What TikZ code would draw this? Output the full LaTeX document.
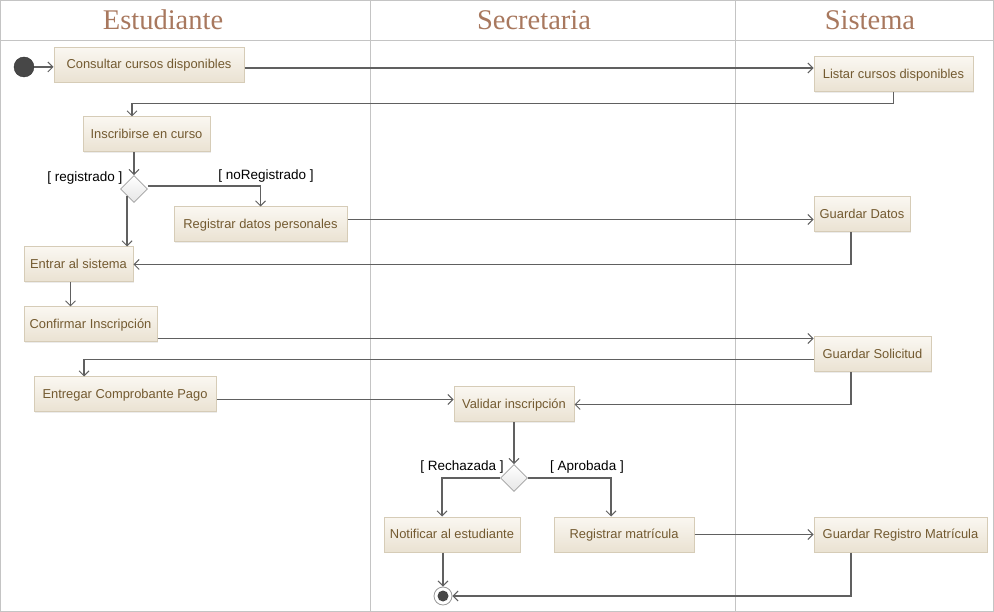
\documentclass[tikz,border=0pt]{standalone}
\usepackage{fontspec}
\setmainfont{Liberation Sans}
\newfontfamily\lanefont{Liberation Serif}
\usetikzlibrary{shapes.geometric,arrows.meta,shadows}

\definecolor{lanegray}{HTML}{C4C4C4}
\definecolor{flowgray}{HTML}{606060}
\definecolor{boxtop}{HTML}{FAF7F1}
\definecolor{boxbot}{HTML}{EAE2D2}
\definecolor{boxline}{HTML}{D6CCB7}
\definecolor{acttext}{HTML}{735A30}
\definecolor{lanetext}{HTML}{A8785E}

\tikzset{
  action/.style={rectangle, draw=boxline, line width=1pt, top color=boxtop, bottom color=boxbot,
    minimum height=35pt, inner xsep=3pt, text=acttext, font=\fontsize{12.9}{15}\selectfont,
    text height=9.5pt, text depth=2pt,
    drop shadow={shadow xshift=1pt, shadow yshift=-1pt, opacity=0.15}},
  choice/.style={diamond, draw=gray!75, line width=0.8pt, top color=white, bottom color=gray!20,
    minimum size=27pt, inner sep=0pt},
  flow/.style={draw=flowgray, line width=1.7pt, -{Straight Barb[length=5pt,width=10pt,line width=1pt]}},
  guard/.style={font=\fontsize{13.5}{15}\selectfont},
  lane/.style={font=\lanefont\fontsize{28.5}{31}\selectfont, text=lanetext}
}

\begin{document}
\begin{tikzpicture}[x=1pt,y=1pt]
  \useasboundingbox (0,0) rectangle (994,-612);
  \draw[lanegray] (0.5,-0.5) rectangle (993.5,-611.5);
  \draw[lanegray] (0.5,-40) -- (993.5,-40);
  \draw[lanegray] (370,-0.5) -- (370,-611.5);
  \draw[lanegray] (735,-0.5) -- (735,-611.5);

  \node[lane] (est) at (163,-20) {Estudiante};
  \node[lane] (sec) at (534,-20) {Secretaria};
  \node[lane] (sis) at (870,-20) {Sistema};
  \coordinate (sys) at (851,0);

  \node[circle, fill=black!72, draw=black!80, minimum size=20pt, inner sep=0pt] (inicio) at (24,-67) {};
  \node[circle, draw=gray!80, line width=0.8pt, fill=white, minimum size=18pt, inner sep=0pt] (fin) at (443,-596) {};
  \fill[black!72] (fin) circle (5.5pt);

  \node[action, minimum width=190pt] (cons) at (149,-65) {Consultar cursos disponibles};
  \node[action, minimum width=159pt] (list) at (893.5,-74.5) {Listar cursos disponibles};
  \node[action, minimum width=127pt] (insc) at (146.5,-134.5) {Inscribirse en curso};
  \node[choice] (dec1) at (134,-189) {};
  \node[action, minimum width=173pt] (regd) at (260.5,-224.5) {Registrar datos personales};
  \node[action, minimum width=96pt] (gdat) at (862,-214.5) {Guardar Datos};
  \node[action, minimum width=109pt] (entr) at (78.5,-264.5) {Entrar al sistema};
  \node[action, minimum width=133pt] (conf) at (90.5,-324.5) {Confirmar Inscripción};
  \node[action, minimum width=117pt] (gsol) at (872.5,-354.5) {Guardar Solicitud};
  \node[action, minimum width=182pt] (entg) at (125,-394.5) {Entregar Comprobante Pago};
  \node[action, minimum width=120pt] (vali) at (514,-404.5) {Validar inscripción};
  \node[choice] (dec2) at (514,-478) {};
  \node[action, minimum width=136pt] (noti) at (452,-534.5) {Notificar al estudiante};
  \node[action, minimum width=140pt] (regm) at (624,-534.5) {Registrar matrícula};
  \node[action, minimum width=173pt] (grm) at (900.5,-534.5) {Guardar Registro Matrícula};

  \node[guard, anchor=east] (g1) at (126,-178) {[ registrado ]};
  \node[guard] (g2) at (266,-176) {[ noRegistrado ]};
  \node[guard] (g3) at (462,-467) {[ Rechazada ]};
  \node[guard] (g4) at (587,-467) {[ Aprobada ]};

  \draw[flow] (inicio) -- (inicio -| cons.west);
  \draw[flow] ([yshift=-3pt]cons.east) -- ([yshift=-3pt]cons.east -| list.west);
  \draw[flow] (list.south) -- ++(0,-11) -| ([xshift=-14.5pt]insc.north);
  \draw[flow] (insc.south -| dec1) -- (dec1.north);
  \draw[flow] (dec1.south west) -- (dec1.south west |- entr.north);
  \draw[flow] ([yshift=3pt]dec1.east) -| (regd.north);
  \draw[flow] ([yshift=5pt]regd.east) -- ([yshift=5pt]regd.east -| gdat.west);
  \draw[flow] (gdat.south -| sys) |- (entr.east);
  \draw[flow] ([xshift=-8pt]entr.south) -- ([xshift=-8pt]entr.south |- conf.north);
  \draw[flow] ([yshift=-14pt]conf.east) -- ([yshift=-14pt]conf.east -| gsol.west);
  \draw[flow] ([yshift=-5pt]gsol.west) -| ([xshift=-41pt]entg.north);
  \draw[flow] ([yshift=-5pt]entg.east) -- ([yshift=-5pt]entg.east -| vali.west);
  \draw[flow] (gsol.south -| sys) |- (vali.east);
  \draw[flow] (vali.south) -- (dec2.north);
  \draw[flow] (dec2.west) -| ([xshift=-10pt]noti.north);
  \draw[flow] (dec2.east) -| ([xshift=-13pt]regm.north);
  \draw[flow] (regm.east) -- (grm.west);
  \draw[flow] (grm.south -| sys) |- (fin.east);
  \draw[flow] (noti.south -| fin) -- (fin.north);
\end{tikzpicture}
\end{document}
